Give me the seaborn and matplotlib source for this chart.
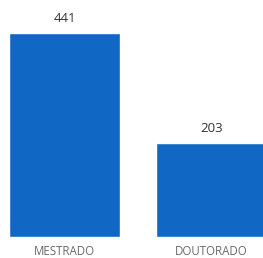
import matplotlib
matplotlib.use("Agg")
import matplotlib.pyplot as plt
import seaborn as sns
import pandas as pd

categories = ["MESTRADO", "DOUTORADO"]
values = [441, 203]

sns.set_theme(style="white")
plt.rcParams['font.family'] = ['Open Sans', 'DejaVu Sans']

df = pd.DataFrame({"cat": categories, "val": values})

fig = plt.figure(figsize=(2.63, 2.58), dpi=100)
ax = fig.add_axes([0, 21/258, 1, 1 - 21/258])
sns.barplot(data=df, x="cat", y="val", color="#1168c4", width=0.755,
            saturation=1, ax=ax)
ax.set_xlim(-0.439, 1.35)
ax.set_ylim(0, 512)
for c in ax.containers:
    ax.bar_label(c, labels=[str(v) for v in values], padding=6,
                 fontsize=9.5, color="#333333")
ax.set_xlabel("")
ax.set_ylabel("")
ax.set_yticks([])
ax.tick_params(axis="x", length=0, pad=6, labelsize=8.3, labelcolor="#6a6a6a")
for s in ax.spines.values():
    s.set_visible(False)
fig.savefig("out.png", dpi=100)
